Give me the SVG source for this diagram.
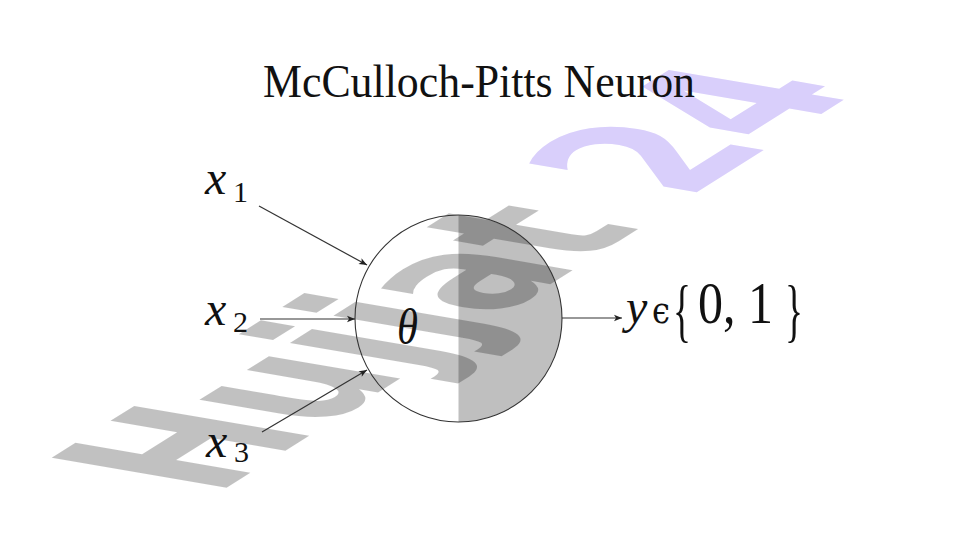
<svg xmlns="http://www.w3.org/2000/svg" width="961" height="540" viewBox="0 0 961 540">
  <defs>
    <marker id="arr" markerUnits="userSpaceOnUse" markerWidth="10" markerHeight="8" refX="9" refY="4" orient="auto">
      <path d="M1,0.8 L9,4 L1,7.2 L3,4 Z" fill="#222"/>
    </marker>
    <style>
      .edge { stroke: #333; stroke-width: 1.2; fill: none; marker-end: url(#arr); }
      .mi { font-family: "Liberation Serif", "DejaVu Serif", serif; font-style: italic; fill: #111; }
      .rm { font-family: "Liberation Serif", "DejaVu Serif", serif; fill: #111; }
      .wm { font-family: "DejaVu Sans", "Liberation Sans", sans-serif; font-weight: bold; font-size: 100px; }
    </style>
  </defs>
  <rect x="0" y="0" width="961" height="540" fill="#ffffff"/>

  <g id="watermark">
    <text class="wm" transform="matrix(1.263 -0.794 2.40 0.41 215 495)"><tspan fill="#000" fill-opacity="0.245">Hujjat </tspan><tspan fill="#d9cffb">24</tspan></text>
  </g>

  <g id="title">
    <text class="rm" x="263" y="97" font-size="46" textLength="432" lengthAdjust="spacingAndGlyphs">McCulloch-Pitts Neuron</text>
  </g>

  <g id="neuron">
    <path d="M458.5,215 A103.5,103.5 0 0 1 458.5,422 Z" fill="#000" fill-opacity="0.25"/>
    <circle cx="458.5" cy="318.5" r="103.5" fill="none" stroke="#333" stroke-width="1.1"/>
    <text class="mi" x="397" y="344" font-size="50" textLength="21" lengthAdjust="spacingAndGlyphs">θ</text>
  </g>

  <g id="connectors">
    <line class="edge" x1="259" y1="206" x2="367" y2="265"/>
    <line class="edge" x1="260" y1="319" x2="355" y2="319"/>
    <line class="edge" x1="262" y1="432" x2="367" y2="370"/>
    <line class="edge" x1="562" y1="318" x2="622" y2="318"/>
  </g>

  <g id="input-x1">
    <text class="mi" x="205" y="194" font-size="48">x</text>
    <text class="rm" x="233" y="202" font-size="30">1</text>
  </g>
  <g id="input-x2">
    <text class="mi" x="205" y="325" font-size="48">x</text>
    <text class="rm" x="233" y="332" font-size="30">2</text>
  </g>
  <g id="input-x3">
    <text class="mi" x="206" y="457" font-size="48">x</text>
    <text class="rm" x="234" y="462" font-size="30">3</text>
  </g>

  <g id="output-y">
    <text class="mi" x="626" y="323" font-size="48">y</text>
    <text x="652" y="323" font-size="38" font-family="DejaVu Serif, serif" fill="#111" textLength="18" lengthAdjust="spacingAndGlyphs">ϵ</text>
    <text class="rm" x="673" y="334" font-size="70" textLength="18" lengthAdjust="spacingAndGlyphs">{</text>
    <text class="rm" x="698" y="323" font-size="60" textLength="75" lengthAdjust="spacingAndGlyphs">0, 1</text>
    <text class="rm" x="785" y="334" font-size="70" textLength="18" lengthAdjust="spacingAndGlyphs">}</text>
  </g>
</svg>
